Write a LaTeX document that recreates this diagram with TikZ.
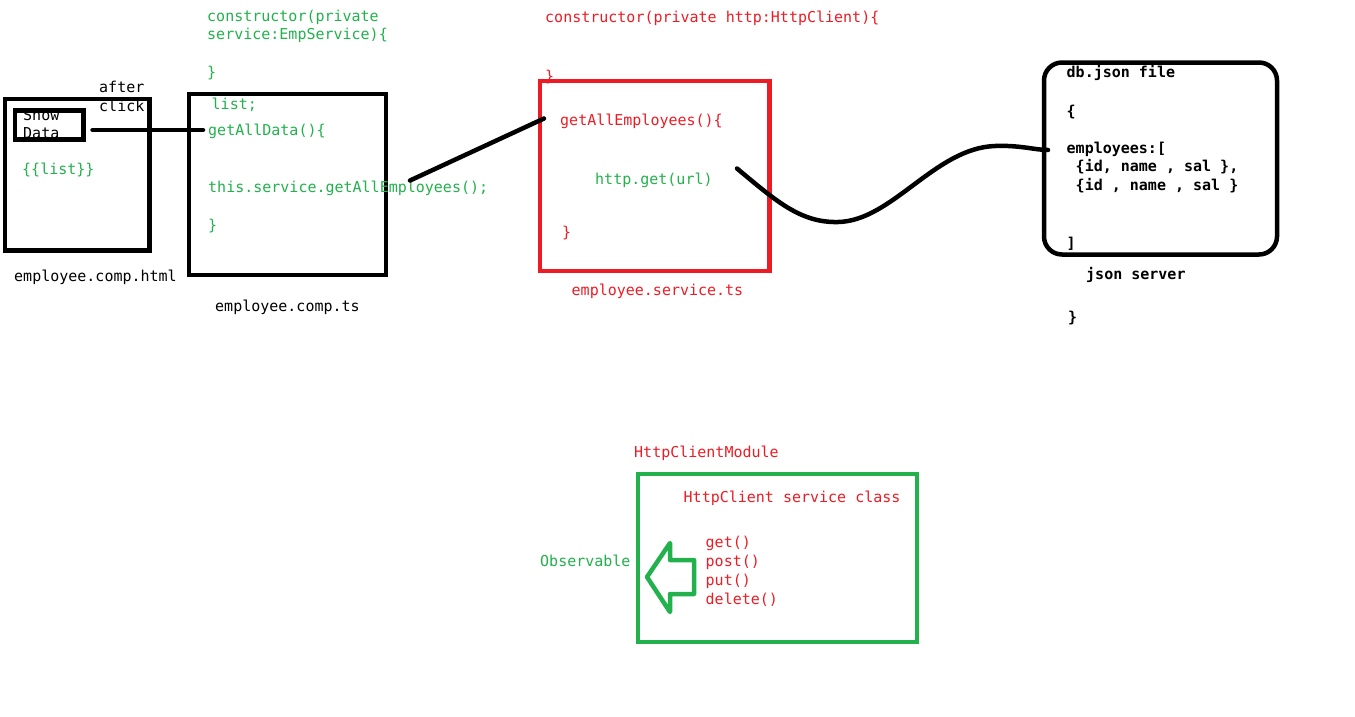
\documentclass[tikz,border=0pt]{standalone}
\usepackage{fontspec}
\usetikzlibrary{fit}
\newfontfamily\codefont{DejaVu Sans Mono}
\definecolor{cgreen}{RGB}{34,177,76}
\definecolor{cred}{RGB}{237,28,36}
\tikzset{
  code/.style={font=\codefont\fontsize{15}{18}\selectfont, inner sep=0pt, anchor=base west},
  bcode/.style={code, font=\codefont\bfseries\fontsize{15}{18}\selectfont},
  frame/.style={draw, line width=4.5pt, inner sep=0pt, fill=none},
  wire/.style={line width=4.5pt, line cap=round},
}
\begin{document}
\begin{tikzpicture}[x=1pt,y=-1pt]
\useasboundingbox (0,0) rectangle (1355,716);

% --- employee.comp.html ---
\node[code] (after) at (99,92) {after};
\node[code] (click) at (99,111) {click};
\node[code] (show) at (23,120) {Show};
\node[code] (data) at (23,138) {Data};
\node[frame, fit={(5,99) (149.5,250.5)}] (html) {};
\node[frame, fit={(15,110.5) (83.5,139.5)}] (btn) {};
\node[code, cgreen] (listb) at (22,174) {\{\{list\}\}};
\node[code] (htmlname) at (14,281) {employee.comp.html};

% --- employee.comp.ts ---
\node[code, cgreen] (ctor1) at (207,21) {constructor(private};
\node[code, cgreen] (ctor2) at (207,39.5) {service:EmpService)\{};
\node[code, cgreen] (ctor3) at (207,77) {\}};
\node[frame, fit={(189,94) (386,275)}] (comp) {};
\node[code, cgreen] (listdecl) at (211.5,109.5) {list;};
\node[code, cgreen] (getall) at (208,135.5) {getAllData()\{};
\node[code, cgreen] (call) at (208,192.5) {this.service.getAllEmployees();};
\node[code, cgreen] (close1) at (208,230) {\}};
\node[code] (compname) at (215,311) {employee.comp.ts};

% --- employee.service.ts ---
\node[code, cred] (sctor) at (545,22) {constructor(private http:HttpClient)\{};
\node[code, cred] (sctor2) at (545,81) {\}};
\node[frame, cred, fit={(540,81) (769.5,271)}] (svc) {};
\node[code, cred] (getemp) at (560,125) {getAllEmployees()\{};
\node[code, cgreen] (httpget) at (595,184.5) {http.get(url)};
\node[code, cred] (close2) at (562,237) {\}};
\node[code, cred] (svcname) at (571.5,295) {employee.service.ts};

% --- db.json / json server ---
\node[frame, rounded corners=18pt, fit={(1044,62.5) (1277,254.5)}] (db) {};
\node[bcode] (dbfile) at (1066.5,77) {db.json file};
\node[bcode] (ob) at (1066.5,116) {\{};
\node[bcode] (emps) at (1066.5,153) {employees:[};
\node[bcode] (row1) at (1066.5,171.5) {\ \{id, name , sal \},};
\node[bcode] (row2) at (1066.5,190.5) {\ \{id , name , sal \}};
\node[bcode] (cb) at (1066.5,248) {]};
\node[bcode] (jserver) at (1086,279) {json server};
\node[bcode] (cbr) at (1068,322) {\}};

% --- HttpClientModule ---
\node[code, cred] (modname) at (634,457.5) {HttpClientModule};
\node[frame, cgreen, fit={(638,474) (917,642)}] (mod) {};
\node[code, cred] (cls) at (683.5,502.5) {HttpClient service class};
\node[code, cred] (mget) at (705.5,547) {get()};
\node[code, cred] (mpost) at (705.5,566) {post()};
\node[code, cred] (mput) at (705.5,585) {put()};
\node[code, cred] (mdel) at (705.5,604) {delete()};
\node[code, cgreen] (obs) at (540,566) {Observable};

% hollow block arrow pointing at "Observable"
\draw[cgreen, line width=4.5pt, line join=round]
  (647,577) -- (670,543) -- (670,560) -- (694,560) -- (694,594)
  -- (670,594) -- (670,612) -- cycle;

% --- connectors ---
\coordinate (btnout) at (92.5,130);
\coordinate (compin) at (203,130);
\coordinate (compout) at (410,180.5);
\coordinate (svcin) at (544,118.5);
\coordinate (svcout) at (737,168.5);
\coordinate (dbin) at (1048,150);

\draw[wire] (btnout) -- (compin);
\draw[wire] (compout) -- (svcin);
\draw[wire] (svcout) .. controls (775,200) and (800,223) .. (838,222)
  .. controls (892,221) and (935,148) .. (995,146)
  .. controls (1020,145) and (1035,150) .. (dbin);
\end{tikzpicture}
\end{document}
